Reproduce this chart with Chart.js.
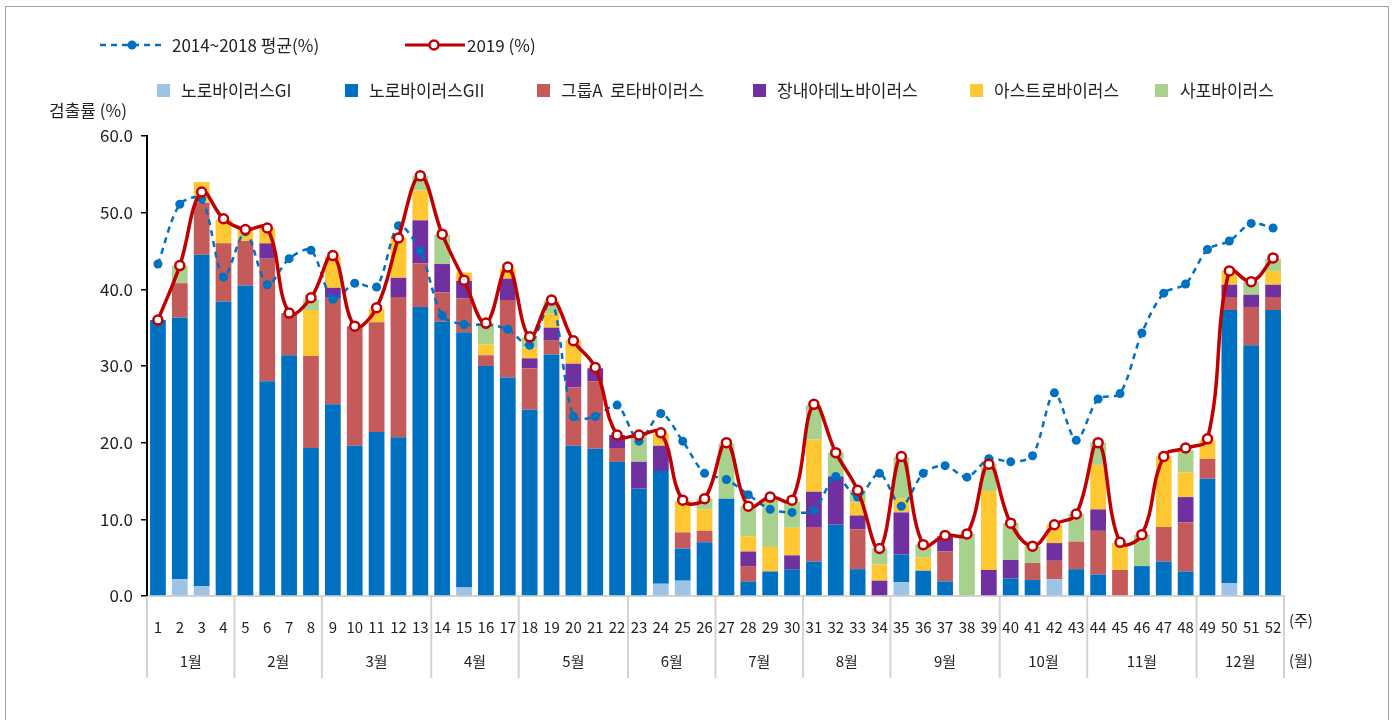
<!DOCTYPE html>
<html>
<head>
<meta charset="utf-8">
<script src="https://cdn.jsdelivr.net/npm/chart.js@4/dist/chart.umd.min.js"></script>
<style>
  body { margin: 0; background: #fff; font-family: "Noto Sans CJK KR", "Noto Sans", sans-serif; color: #222; }
  #wrap { position: relative; width: 1396px; height: 720px; overflow: hidden; }
  #frame { position: absolute; left: 5px; top: 6px; width: 1382px; height: 740px; border: 1.5px solid #a0a0a0; }
  canvas { position: absolute; left: 0; top: 0; }
  .lg { position: absolute; font-size: 17px; line-height: 20px; white-space: nowrap; }
  .sq { position: absolute; width: 13px; height: 13px; }
  svg { position: absolute; overflow: visible; }
</style>
</head>
<body>
<div id="wrap">
  <div id="frame"></div>
  <canvas id="chart" width="1396" height="720"></canvas>

  <svg style="left:100px;top:36px" width="62" height="18">
    <line x1="0" y1="9" x2="62" y2="9" stroke="#0070C0" stroke-width="2.5" stroke-dasharray="6,5"/>
    <circle cx="32" cy="9" r="4.5" fill="#0070C0"/>
  </svg>
  <div class="lg" style="left:172px;top:35px">2014~2018 평균(%)</div>
  <svg style="left:405px;top:36px" width="60" height="18">
    <line x1="0" y1="9" x2="60" y2="9" stroke="#C00000" stroke-width="3"/>
    <circle cx="29" cy="9" r="4.5" fill="#fff" stroke="#C00000" stroke-width="2.5"/>
  </svg>
  <div class="lg" style="left:467px;top:35px">2019 (%)</div>

  <div class="sq" style="left:157px;top:84px;background:#9DC3E6"></div>
  <div class="lg" style="left:181px;top:80px">노로바이러스GI</div>
  <div class="sq" style="left:345px;top:84px;background:#0070C0"></div>
  <div class="lg" style="left:369px;top:80px">노로바이러스GII</div>
  <div class="sq" style="left:537px;top:84px;background:#C55A5A"></div>
  <div class="lg" style="left:561px;top:80px">그룹A&nbsp; 로타바이러스</div>
  <div class="sq" style="left:753px;top:84px;background:#7030A0"></div>
  <div class="lg" style="left:777px;top:80px">장내아데노바이러스</div>
  <div class="sq" style="left:970px;top:84px;background:#FFC833"></div>
  <div class="lg" style="left:994px;top:80px">아스트로바이러스</div>
  <div class="sq" style="left:1155px;top:84px;background:#A9D18E"></div>
  <div class="lg" style="left:1180px;top:80px">사포바이러스</div>

  <div class="lg" style="left:49px;top:100px">검출률 (%)</div>
</div>

<script>
// weeks 1..52
const weeks = Array.from({length: 52}, (_, i) => String(i + 1))
const months = ['1월','2월','3월','4월','5월','6월','7월','8월','9월','10월','11월','12월']
const weeksPerMonth = [4,4,5,4,5,4,4,4,5,4,5,4]
const yTicks = [0, 10, 20, 30, 40, 50, 60]

const noroGI = [0,2.2,1.3,0,0,0,0,0,0,0, 0,0,0,0,1.1,0,0,0,0,0, 0,0,0,1.6,2.0,0,0,0,0,0, 0,0,0,0,1.8,0,0,0,0,0, 0,2.2,0,0,0,0,0,0,0,1.7, 0,0]
const noroGII = [36.0,34.1,43.2,38.4,40.5,28.0,31.4,19.3,25.0,19.6, 21.4,20.7,37.7,35.8,33.3,30.0,28.5,24.3,31.5,19.6, 19.2,17.5,14.0,14.7,4.2,7.0,12.7,1.9,3.2,3.5, 4.5,9.3,3.5,0,3.6,3.3,1.9,0,0,2.3, 2.1,0,3.5,2.8,0,3.9,4.5,3.2,15.3,35.6, 32.7,37.3]
const rotaA = [0,4.5,6.8,7.6,5.8,16.0,5.5,12.0,13.9,15.6, 14.3,18.3,5.7,3.8,4.4,1.4,10.1,5.4,1.8,7.6, 8.8,1.8,0,0,2.1,1.5,0,2.0,0,0, 4.5,0,5.2,0,0,0,3.9,0,0,0, 2.2,2.4,3.6,5.7,3.4,0,4.5,6.4,2.6,1.7, 5.0,1.7]
const adeno = [0,0,0,0,0,2.0,0,0,1.3,0, 0,2.5,5.6,3.7,2.3,0,2.8,1.3,1.7,3.1, 1.7,1.7,3.5,3.3,0,0,0,1.9,0,1.8, 4.6,6.3,1.8,2.0,5.5,0,2.0,0,3.4,2.4, 0,2.3,0,2.8,0,0,0,3.3,0,1.6, 1.6,1.6]
const astro = [0,0,2.7,3.1,1.5,2.0,0,6.0,4.1,0, 1.7,5.2,3.9,0,1.1,1.4,1.3,1.4,1.9,3.0, 0,0,0,1.6,4.1,2.8,0,2.0,3.2,3.6, 6.8,0,1.7,2.1,1.8,1.7,0,0,10.3,0, 0,2.4,0,5.8,3.5,0,9.2,3.2,2.5,1.8, 0,1.8]
const sapo = [0,2.3,0,0,0,0,0,1.4,0,0, 0,0,1.9,3.8,0,2.8,0,1.3,1.6,0, 0,0,3.4,0,0,1.4,7.2,3.9,6.1,3.4, 4.5,3.1,1.6,2.1,5.4,1.7,0,8.1,3.5,4.8, 2.2,0,3.6,2.9,0,4.1,0,2.9,0,0, 1.7,1.6]

const rate2019 = [36.0,43.1,52.7,49.2,47.8,48.0,36.9,38.9,44.4,35.2, 37.6,46.7,54.8,47.2,41.2,35.6,42.9,33.8,38.6,33.3, 29.8,21.0,21.0,21.3,12.5,12.7,20.0,11.7,12.9,12.5, 25.0,18.7,13.8,6.2,18.2,6.7,7.9,8.1,17.2,9.5, 6.5,9.3,10.7,20.0,7.0,8.0,18.2,19.3,20.5,42.4, 41.0,44.1]
const avg1418 = [43.3,51.1,51.8,41.6,47.5,40.6,44.0,45.1,38.7,40.8, 40.3,48.3,45.0,36.6,35.4,35.4,34.8,32.7,38.5,23.4, 23.4,24.9,20.2,23.8,20.2,16.0,15.2,13.2,11.3,10.9, 11.2,15.6,12.9,16.0,11.7,16.0,17.0,15.5,17.9,17.5, 18.3,26.5,20.3,25.7,26.4,34.3,39.5,40.7,45.2,46.3, 48.6,48.0]

const FONT = '"Noto Sans CJK KR", "Noto Sans", sans-serif'

// month row, separators, unit labels under the x axis
const monthRow = {
    id: 'monthRow',
    afterDraw(chart){
        const xs = chart.scales.x
        const ctx = chart.ctx
        const half = (xs.getPixelForValue(1) - xs.getPixelForValue(0)) / 2
        const top = chart.chartArea.bottom
        ctx.save()
        ctx.strokeStyle = '#d3d3d3'
        ctx.lineWidth = 2
        ctx.fillStyle = '#222'
        ctx.font = '15px ' + FONT
        ctx.textAlign = 'center'
        ctx.textBaseline = 'middle'
        let start = 0
        const left0 = xs.getPixelForValue(0) - half
        ctx.beginPath(); ctx.moveTo(left0, top); ctx.lineTo(left0, 678); ctx.stroke()
        months.forEach((m, i) => {
            const end = start + weeksPerMonth[i] - 1
            const a = xs.getPixelForValue(start) - half
            const b = xs.getPixelForValue(end) + half
            ctx.beginPath(); ctx.moveTo(b, top); ctx.lineTo(b, 678); ctx.stroke()
            ctx.fillText(m, (a + b) / 2, 661)
            start = end + 1
        })
        ctx.textAlign = 'left'
        ctx.fillText('(주)', xs.right + 5, 620)
        ctx.fillText('(월)', xs.right + 5, 660)
        ctx.restore()
    }
}

const barSet = (label, data, color) => ({
    type: 'bar', label, data, backgroundColor: color, borderWidth: 0,
    stack: 'virus', order: 3, barPercentage: 0.72, categoryPercentage: 1
})

const ctx = document.getElementById('chart').getContext('2d')
new Chart(ctx, {
    data: {
        labels: weeks,
        datasets: [
            {
                type: 'line', label: '2019 (%)', data: rate2019, stack: 'l2019', order: 1,
                borderColor: '#C00000', borderWidth: 3.5, tension: 0.4,
                pointRadius: 4.5, pointBackgroundColor: '#fff', pointBorderColor: '#C00000', pointBorderWidth: 2.5
            },
            {
                type: 'line', label: '2014~2018 평균(%)', data: avg1418, stack: 'lavg', order: 2,
                borderColor: '#0070C0', borderWidth: 2.5, borderDash: [6, 5], tension: 0.3,
                pointRadius: 4.5, pointBackgroundColor: '#0070C0', pointBorderWidth: 0
            },
            barSet('노로바이러스GI', noroGI, '#9DC3E6'),
            barSet('노로바이러스GII', noroGII, '#0070C0'),
            barSet('그룹A 로타바이러스', rotaA, '#C55A5A'),
            barSet('장내아데노바이러스', adeno, '#7030A0'),
            barSet('아스트로바이러스', astro, '#FFC833'),
            barSet('사포바이러스', sapo, '#A9D18E'),
        ]
    },
    options: {
        responsive: false,
        animation: false,
        layout: { padding: { top: 136, right: 112, bottom: 0, left: 0 } },
        scales: {
            x: {
                stacked: true,
                grid: { display: false },
                border: { color: '#d3d3d3', width: 2 },
                ticks: { autoSkip: false, maxRotation: 0, color: '#222', padding: 14, font: { size: 15, family: FONT } },
                afterFit(scale){ scale.height = 124 }
            },
            y: {
                stacked: true,
                min: 0, max: 60,
                afterBuildTicks(scale){ scale.ticks = yTicks.map(v => ({ value: v })) },
                grid: { drawOnChartArea: false, drawTicks: true, tickLength: 6, color: '#000', lineWidth: 1.5 },
                border: { color: '#000', width: 2 },
                ticks: { color: '#222', padding: 8, font: { size: 17, family: FONT }, callback: v => v.toFixed(1) },
                afterFit(scale){ scale.width = 147 }
            }
        },
        plugins: {
            legend: { display: false },
            tooltip: { enabled: false }
        }
    },
    plugins: [monthRow]
})
</script>
</body>
</html>
